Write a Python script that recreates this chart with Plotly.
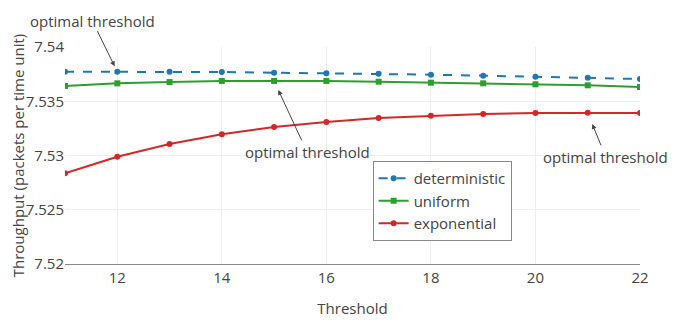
import plotly.graph_objects as go

thresholds = [11, 12, 13, 14, 15, 16, 17, 18, 19, 20, 21, 22]
deterministic = [7.53772, 7.53772, 7.53772, 7.53769, 7.53763, 7.53758, 7.53754, 7.53745, 7.53736, 7.53726, 7.53717, 7.53705]
uniform = [7.53641, 7.53665, 7.53677, 7.53687, 7.53687, 7.53687, 7.53680, 7.53671, 7.53665, 7.53656, 7.53647, 7.53631]
exponential = [7.52836, 7.52989, 7.53106, 7.53195, 7.53263, 7.53309, 7.53346, 7.53367, 7.53382, 7.53392, 7.53393, 7.53392]

fig = go.Figure()
fig.add_trace(go.Scatter(x=thresholds, y=deterministic, name="deterministic", mode="lines+markers",
                         line=dict(color="#1f77b4", width=2, dash="dash"), marker=dict(symbol="circle", size=6)))
fig.add_trace(go.Scatter(x=thresholds, y=uniform, name="uniform", mode="lines+markers",
                         line=dict(color="#2ca02c", width=2), marker=dict(symbol="square", size=6)))
fig.add_trace(go.Scatter(x=thresholds, y=exponential, name="exponential", mode="lines+markers",
                         line=dict(color="#d62728", width=2), marker=dict(symbol="circle", size=6)))

ann_font = dict(family="Open Sans, sans-serif", size=15, color="#444")
fig.add_annotation(x=12, y=deterministic[1], text="optimal threshold", showarrow=True, arrowhead=2,
                   arrowcolor="#444", arrowwidth=1, ax=-25, ay=-51, standoff=6, borderpad=0, font=ann_font)
fig.add_annotation(x=15, y=uniform[4], text="optimal threshold", showarrow=True, arrowhead=2,
                   arrowcolor="#444", arrowwidth=1, ax=33, ay=71, standoff=10, font=ann_font)
fig.add_annotation(x=21, y=exponential[10], text="optimal threshold", showarrow=True, arrowhead=2,
                   arrowcolor="#444", arrowwidth=1, ax=18, ay=44, standoff=12, font=ann_font)

fig.update_layout(
    width=694, height=321,
    margin=dict(l=57, r=62, t=39, b=65),
    paper_bgcolor="white", plot_bgcolor="white",
    font=dict(family="Open Sans, sans-serif", size=15, color="#444"),
    showlegend=True,
    legend=dict(x=0.535, y=0.475, xanchor="left", yanchor="top", bgcolor="white",
                bordercolor="#888", borderwidth=1, font=dict(size=15)),
    xaxis=dict(title=dict(text="Threshold", font=dict(size=15), standoff=17), range=[11, 22], dtick=2, tick0=0,
               showgrid=True, gridcolor="#eee", showline=True, linecolor="#888", linewidth=1,
               zeroline=False, ticks="", tickfont=dict(size=15), automargin=False),
    yaxis=dict(title=dict(text="Throughput (packets per time unit)", font=dict(size=15), standoff=0),
               range=[7.52, 7.54],
               dtick=0.005, tick0=7.52, showgrid=True, gridcolor="#eee", zeroline=False, showline=False,
               tickfont=dict(size=15), automargin=False),
)

fig.write_html("out.html")
